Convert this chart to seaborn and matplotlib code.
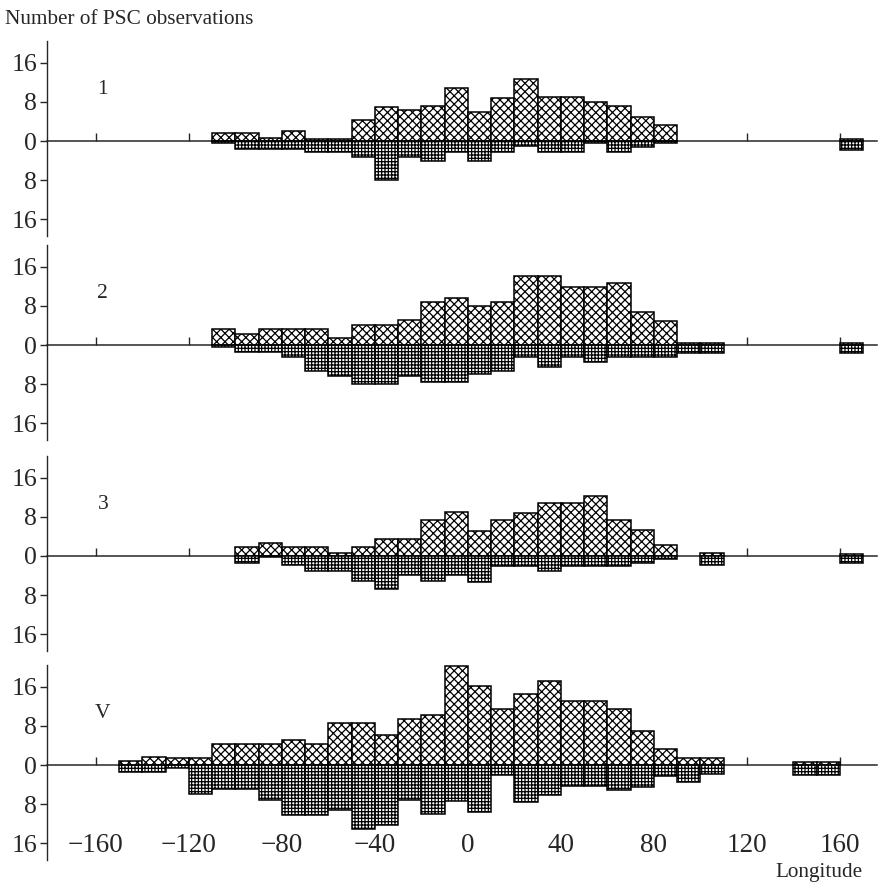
import matplotlib
matplotlib.use('Agg')
import matplotlib.pyplot as plt
import seaborn as sns

# Counts per 10-degree longitude bin (bin centres).
# "top" = upper histogram (crosshatch), "bot" = lower histogram (grid), drawn downward.
lon_1 = [-105, -95, -85, -75, -65, -55, -45, -35, -25, -15, -5, 5, 15, 25, 35, 45, 55, 65, 75, 85, 165]
top_1 = [1.7, 1.7, 0.7, 2.0, 0.5, 0.5, 4.3, 7.0, 6.4, 7.2, 10.8, 5.9, 8.9, 12.8, 9.0, 9.0, 8.0, 7.2, 5.0, 3.2, 0.5]
bot_1 = [0.5, 1.6, 1.6, 1.6, 2.2, 2.2, 3.2, 7.9, 3.2, 4.1, 2.2, 4.1, 2.2, 1.0, 2.2, 2.2, 0.5, 2.2, 1.3, 0.5, 1.9]

lon_2 = [-105, -95, -85, -75, -65, -55, -45, -35, -25, -15, -5, 5, 15, 25, 35, 45, 55, 65, 75, 85, 95, 105, 165]
top_2 = [3.2, 2.2, 3.2, 3.2, 3.2, 1.4, 4.1, 4.1, 5.2, 8.8, 9.7, 8.0, 8.9, 14.1, 14.1, 11.9, 11.9, 12.7, 6.7, 5.0, 0.5, 0.5, 0.5]
bot_2 = [0.5, 1.5, 1.5, 2.4, 5.3, 6.3, 8.0, 8.0, 6.3, 7.5, 7.5, 6.0, 5.3, 2.4, 4.6, 2.4, 3.4, 2.5, 2.5, 2.4, 1.7, 1.7, 1.7]

lon_3 = [-95, -85, -75, -65, -55, -45, -35, -25, -15, -5, 5, 15, 25, 35, 45, 55, 65, 75, 85, 105, 165]
top_3 = [1.8, 2.7, 1.9, 1.9, 0.6, 1.9, 3.4, 3.4, 7.3, 9.0, 5.2, 7.3, 8.8, 10.8, 10.8, 12.3, 7.3, 5.3, 2.3, 0.6, 0.5]
bot_3 = [1.4, 0.3, 1.9, 3.1, 3.1, 5.1, 6.8, 3.9, 5.1, 3.8, 5.3, 2.1, 2.1, 3.1, 2.1, 2.1, 2.1, 1.4, 0.7, 1.9, 1.5]

lon_v = [-145, -135, -125, -115, -105, -95, -85, -75, -65, -55, -45, -35, -25, -15,
         -5, 5, 15, 25, 35, 45, 55, 65, 75, 85, 95, 105, 145, 155]
top_v = [0.8, 1.6, 1.5, 1.5, 4.4, 4.4, 4.4, 5.2, 4.4, 8.6, 8.6, 6.2, 9.4, 10.3,
         20.3, 16.1, 11.4, 14.5, 17.3, 13.2, 13.2, 11.4, 6.9, 3.2, 1.4, 1.5, 0.6, 0.6]
bot_v = [1.4, 1.4, 0.6, 5.9, 5.0, 5.0, 7.1, 10.2, 10.2, 9.2, 13.2, 12.2, 7.2, 10.1,
         7.4, 9.6, 2.1, 7.5, 6.2, 4.3, 4.3, 5.1, 4.5, 2.3, 3.4, 1.8, 2.0, 2.0]

panels = [('1', lon_1, top_1, bot_1),
          ('2', lon_2, top_2, bot_2),
          ('3', lon_3, top_3, bot_3),
          ('V', lon_v, top_v, bot_v)]

x_ticks = [-160, -120, -80, -40, 0, 40, 80, 120, 160]
x_labels = [str(t).replace('-', '\u2212') for t in x_ticks]
y_ticks = [-16, -8, 0, 8, 16]
y_labels = ['16', '8', '0', '8', '16']

sns.set_style('ticks')
plt.rcParams['font.family'] = ['Liberation Serif', 'DejaVu Serif']
plt.rcParams['hatch.linewidth'] = 0.9

W, H = 879, 885
fig = plt.figure(figsize=(W / 100, H / 100), dpi=100)

# pixel layout of the four panels
left_px, right_px = 47, 877
zero_px = [141, 345, 556, 765]
ppu = 4.88  # pixels per count
y_lo, y_hi = -19.5, 20.5

for i, (name, lon, top, bot) in enumerate(panels):
    top_edge = zero_px[i] - y_hi * ppu
    height = (y_hi - y_lo) * ppu
    ax = fig.add_axes([left_px / W, 1 - (top_edge + height) / H,
                       (right_px - left_px) / W, height / H])

    sns.barplot(x=lon, y=top, native_scale=True, width=1, color='white',
                saturation=1, edgecolor='black', linewidth=1.1, hatch='xxxx',
                errorbar=None, ax=ax, zorder=3)
    sns.barplot(x=lon, y=[-b for b in bot], native_scale=True, width=1, color='white',
                saturation=1, edgecolor='black', linewidth=1.1, hatch='+++++',
                errorbar=None, ax=ax, zorder=3)

    ax.set_xlim(-181, 176)
    ax.set_ylim(y_lo, y_hi)
    ax.spines['top'].set_visible(False)
    ax.spines['right'].set_visible(False)
    ax.spines['bottom'].set_position(('data', 0))
    ax.spines['bottom'].set_linewidth(1.1)
    ax.spines['left'].set_linewidth(1.0)

    ax.set_yticks(y_ticks)
    ax.set_yticklabels(y_labels)
    ax.tick_params(axis='y', direction='out', length=5, width=1, labelsize=18.5, pad=2)

    ax.set_xticks(x_ticks)
    ax.set_xticklabels(x_labels)
    ax.tick_params(axis='x', direction='in', length=6, width=1, labelsize=19.5)
    ax.set_ylabel('')
    ax.set_xlabel('')

    ax.text(-157, 10.5, name, fontsize=15.5, ha='center', va='center')

    if name == 'V':
        ax.tick_params(axis='x', pad=49)
        ax.set_xlabel('Longitude', fontsize=15.3, ha='right')
        ax.xaxis.set_label_coords(0.982, -0.015)
    else:
        ax.tick_params(axis='x', labelbottom=False)

fig.text(5 / W, 1 - 20 / H, 'Number of PSC observations', fontsize=15.3,
         ha='left', va='center')

fig.savefig('out.png', dpi=100)
